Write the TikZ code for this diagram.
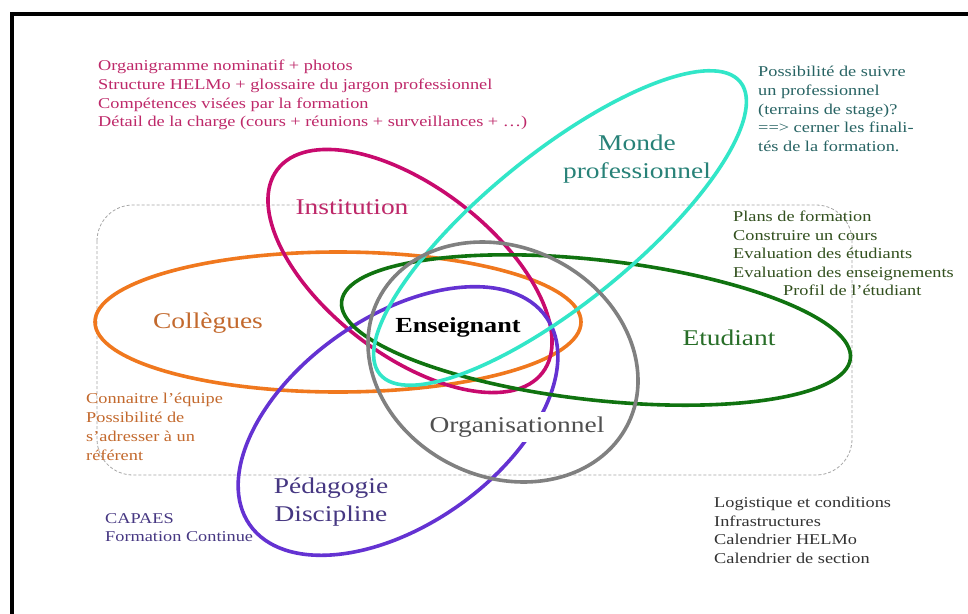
\documentclass[tikz,border=0pt]{standalone}
\usepackage{fontspec}
\setmainfont{Liberation Serif}[FakeStretch=1.22]
\definecolor{cMag}{RGB}{200,10,110}
\definecolor{cCyan}{RGB}{50,230,200}
\definecolor{cOrange}{RGB}{240,120,30}
\definecolor{cGreen}{RGB}{16,115,16}
\definecolor{cGray}{RGB}{128,128,128}
\definecolor{cPurple}{RGB}{100,50,210}
\definecolor{tMag}{RGB}{190,40,105}
\definecolor{tTeal}{RGB}{40,100,100}
\definecolor{tTeal2}{RGB}{40,130,120}
\definecolor{tGreen}{RGB}{50,80,30}
\definecolor{tGreen2}{RGB}{40,110,40}
\definecolor{tOrange}{RGB}{195,105,45}
\definecolor{tPurple}{RGB}{70,55,130}
\definecolor{tDark}{RGB}{50,50,50}
\definecolor{tGray}{RGB}{80,80,80}
\begin{document}
\begin{tikzpicture}[x=1pt,y=-1pt,
  ell/.style={line width=3.6pt},
  listtext/.style={anchor=north west,align=left,inner sep=0pt,font=\fontsize{15}{18.7}\selectfont},
  biglabel/.style={align=center,inner sep=0pt,font=\fontsize{22.5}{28}\selectfont}]
\useasboundingbox (0,0) rectangle (968,613);
\clip (0,0) rectangle (968,613);
\fill[white] (0,0) rectangle (968,613);
\draw[line width=4pt] (12,14) rectangle (1000,660);
% dashed frame
\draw[gray!70,densely dashed,line width=0.8pt,rounded corners=36pt] (97,205) rectangle (852,475);
% ellipses
\draw[cOrange,ell] (338,322) ellipse [x radius=243,y radius=70];
\draw[cMag,ell,rotate around={-37.5:(410,271)}] (410,271) ellipse [x radius=167,y radius=84];
\draw[cPurple,ell,rotate around={35:(398,421)}] (398,421) ellipse [x radius=181,y radius=104];
\node[biglabel,fill=white,inner xsep=2pt,inner ysep=5pt] (org) at (517,427) {\textcolor{tGray}{Organisationnel}};
\draw[cGreen,ell,rotate around={-6.4:(596,330)}] (596,330) ellipse [x radius=256,y radius=70];
\draw[cCyan,ell,rotate around={39:(560,228)}] (560,228) ellipse [x radius=232,y radius=75];
\draw[cGray,ell,rotate around={-26.3:(503,362)}] (503,362) ellipse [x radius=139.5,y radius=114.7];
% labels
\node[biglabel,text=tMag] (inst) at (352,207) {Institution};
\node[biglabel,text=tTeal2] (monde) at (637,159) {Monde\\professionnel};
\node[biglabel,text=tOrange] (coll) at (208,323) {Collègues};
\node[biglabel,text=black,font=\bfseries\fontsize{21.5}{26}\selectfont] (ens) at (458,327) {Enseignant};
\node[biglabel,text=tGreen2] (etu) at (729,338) {Etudiant};
\node[biglabel,text=tPurple] (peda) at (331,502) {Pédagogie\\Discipline};
% side texts
\node[listtext,text=tMag] (instlist) at (98,60) {Organigramme nominatif + photos\\Structure HELMo + glossaire du jargon professionnel\\Compétences visées par la formation\\Détail de la charge (cours + réunions + surveillances + …)};
\node[listtext,text=tTeal] (mondelist) at (758,66) {Possibilité de suivre\\un professionnel\\(terrains de stage)?\\==> cerner les finali-\\tés de la formation.};
\node[listtext,text=tGreen,font=\fontsize{15}{18.5}\selectfont] (etulist) at (733,211) {Plans de formation\\Construire un cours\\Evaluation des étudiants\\Evaluation des enseignements\\\hspace*{50pt}Profil de l’étudiant};
\node[listtext,text=tOrange,font=\fontsize{15}{19}\selectfont] (colllist) at (86,393) {Connaitre l’équipe\\Possibilité de\\s’adresser à un\\référent};
\node[listtext,text=tPurple,font=\fontsize{15}{18.5}\selectfont] (pedalist) at (105,513) {CAPAES\\Formation Continue};
\node[listtext,text=tDark,font=\fontsize{15}{18.5}\selectfont] (orglist) at (714,497) {Logistique et conditions\\Infrastructures\\Calendrier HELMo\\Calendrier de section};
\end{tikzpicture}
\end{document}
